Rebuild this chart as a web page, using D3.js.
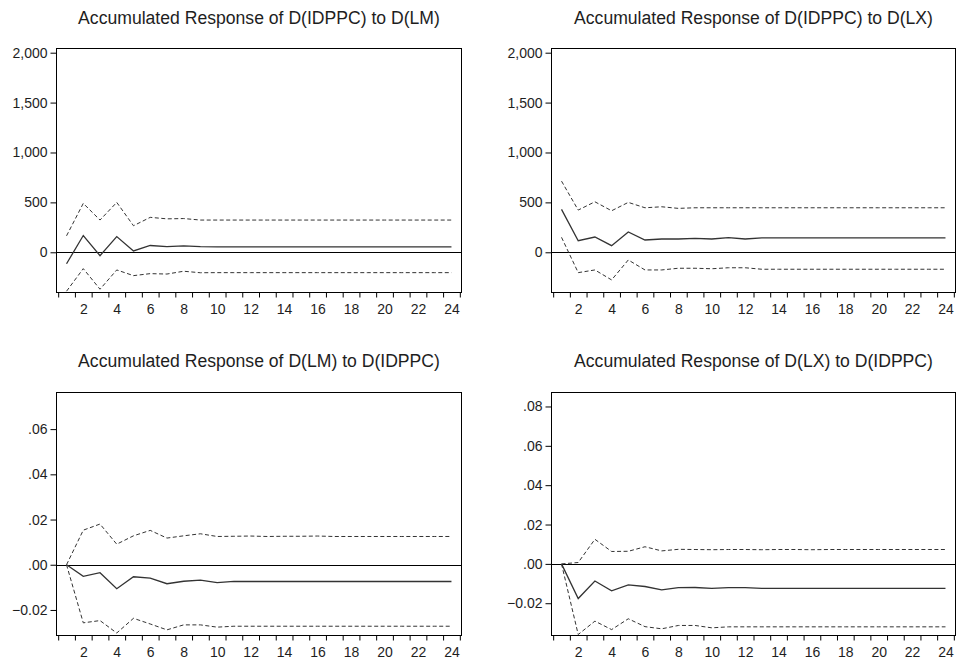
<!DOCTYPE html>
<html>
<head>
<meta charset="utf-8">
<script src="https://cdn.jsdelivr.net/npm/d3@7"></script>
<style>
  html, body { margin: 0; padding: 0; background: #fff; }
  svg { display: block; }
  .title { font-family: "Liberation Sans", Arial, sans-serif; font-size: 17.6px; fill: #1e1e1e; }
  .tick text { font-family: "Liberation Sans", Arial, sans-serif; font-size: 14px; fill: #1e1e1e; }
</style>
</head>
<body>
<script>
// Forecast horizon (periods)
const periods = [1,2,3,4,5,6,7,8,9,10,11,12,13,14,15,16,17,18,19,20,21,22,23,24];
const xTickLabels = [2,4,6,8,10,12,14,16,18,20,22,24];

// Accumulated Response of D(IDPPC) to D(LM)
const idppcLmResp  = [-115,168,-34,157,13,68,56,64,56,55,55,55,55,55,55,55,55,55,55,55,55,55,55,55];
const idppcLmUpper = [165,490,323,500,266,350,335,338,323,323,323,323,323,323,323,323,323,323,323,323,323,323,323,323];
const idppcLmLower = [-390,-164,-370,-177,-234,-214,-218,-190,-205,-204,-204,-204,-204,-204,-204,-204,-204,-204,-204,-204,-204,-204,-204,-204];

// Accumulated Response of D(IDPPC) to D(LX)
const idppcLxResp  = [430,116,153,66,203,123,133,133,140,133,146,133,145,145,145,145,145,145,145,145,145,145,145,145];
const idppcLxUpper = [713,423,506,416,500,446,456,440,446,446,446,446,446,446,446,446,446,446,446,446,446,446,446,446];
const idppcLxLower = [150,-204,-177,-277,-77,-177,-177,-160,-160,-165,-155,-155,-170,-170,-170,-170,-170,-170,-170,-170,-170,-170,-170,-170];

// Accumulated Response of D(LM) to D(IDPPC)
const lmIdppcResp  = [0,-0.0051,-0.0035,-0.0106,-0.0053,-0.0059,-0.0084,-0.0073,-0.0068,-0.0079,-0.0074,-0.0074,-0.0074,-0.0074,-0.0074,-0.0074,-0.0074,-0.0074,-0.0074,-0.0074,-0.0074,-0.0074,-0.0074,-0.0074];
const lmIdppcUpper = [0,0.0153,0.0180,0.0091,0.0128,0.0152,0.0118,0.0128,0.0137,0.0125,0.0126,0.0127,0.0125,0.0126,0.0126,0.0127,0.0125,0.0125,0.0125,0.0125,0.0125,0.0125,0.0125,0.0125];
const lmIdppcLower = [0,-0.0257,-0.0247,-0.0302,-0.0237,-0.0262,-0.0288,-0.0266,-0.0266,-0.0276,-0.0272,-0.0272,-0.0272,-0.0272,-0.0272,-0.0272,-0.0272,-0.0272,-0.0272,-0.0272,-0.0272,-0.0272,-0.0272,-0.0272];

// Accumulated Response of D(LX) to D(IDPPC)
const lxIdppcResp  = [0,-0.0176,-0.0087,-0.0137,-0.0107,-0.0115,-0.0132,-0.0121,-0.0120,-0.0125,-0.0121,-0.0121,-0.0125,-0.0125,-0.0125,-0.0125,-0.0125,-0.0125,-0.0125,-0.0125,-0.0125,-0.0125,-0.0125,-0.0125];
const lxIdppcUpper = [0,0.0007,0.0125,0.0063,0.0064,0.0087,0.0066,0.0074,0.0073,0.0072,0.0073,0.0073,0.0072,0.0073,0.0073,0.0072,0.0073,0.0073,0.0073,0.0073,0.0073,0.0073,0.0073,0.0073];
const lxIdppcLower = [0,-0.0359,-0.0291,-0.0334,-0.0279,-0.0319,-0.0330,-0.0313,-0.0313,-0.0325,-0.0320,-0.0320,-0.0320,-0.0320,-0.0320,-0.0320,-0.0320,-0.0320,-0.0320,-0.0320,-0.0320,-0.0320,-0.0320,-0.0320];

// Y-axis tick values per panel
const levelTicks = [0, 500, 1000, 1500, 2000];
const lmTicks = [-0.02, 0, 0.02, 0.04, 0.06];
const lxTicks = [-0.02, 0, 0.02, 0.04, 0.06, 0.08];

const fmtLevel = d3.format(",");
const fmtRate = d => d3.format(".2f")(d).replace(/^(-?)0\./, "$1.");

const panels = [
  { title: "Accumulated Response of D(IDPPC) to D(LM)", resp: idppcLmResp, upper: idppcLmUpper, lower: idppcLmLower,
    yDomain: [-403, 2042], yTicks: levelTicks, fmt: fmtLevel,
    box: { left: 56.5, right: 461.5, top: 48.5, bottom: 292.5 }, titleY: 24 },
  { title: "Accumulated Response of D(IDPPC) to D(LX)", resp: idppcLxResp, upper: idppcLxUpper, lower: idppcLxLower,
    yDomain: [-403, 2042], yTicks: levelTicks, fmt: fmtLevel,
    box: { left: 551.5, right: 955.5, top: 48.5, bottom: 292.5 }, titleY: 24 },
  { title: "Accumulated Response of D(LM) to D(IDPPC)", resp: lmIdppcResp, upper: lmIdppcUpper, lower: lmIdppcLower,
    yDomain: [-0.0313, 0.0762], yTicks: lmTicks, fmt: fmtRate,
    box: { left: 56.5, right: 461.5, top: 392.5, bottom: 635.5 }, titleY: 367 },
  { title: "Accumulated Response of D(LX) to D(IDPPC)", resp: lxIdppcResp, upper: lxIdppcUpper, lower: lxIdppcLower,
    yDomain: [-0.0364, 0.0871], yTicks: lxTicks, fmt: fmtRate,
    box: { left: 551.5, right: 955.5, top: 392.5, bottom: 635.5 }, titleY: 367 }
];

const svg = d3.select("body").append("svg")
  .attr("width", 958).attr("height", 662);

panels.forEach((p, i) => {
  const b = p.box;
  const x = d3.scaleLinear().domain([0.4, 24.6]).range([b.left, b.right]);
  const y = d3.scaleLinear().domain(p.yDomain).range([b.bottom, b.top]);
  const g = svg.append("g");

  const clipId = "clip" + i;
  g.append("clipPath").attr("id", clipId)
    .append("rect").attr("x", b.left).attr("y", b.top)
    .attr("width", b.right - b.left).attr("height", b.bottom - b.top);

  // title
  g.append("text").attr("class", "title")
    .attr("x", (b.left + b.right) / 2).attr("y", p.titleY)
    .attr("text-anchor", "middle").text(p.title);

  // y axis
  const yAxis = d3.axisLeft(y).tickValues(p.yTicks).tickFormat(p.fmt)
    .tickSize(6).tickPadding(3);
  const ya = g.append("g").attr("transform", `translate(${b.left},0)`).call(yAxis);
  ya.select(".domain").remove();
  ya.selectAll(".tick line").attr("stroke", "#000");

  // x axis: ticks between periods, labels on even periods
  const xTickAxis = d3.axisBottom(x).tickValues(periods.map(d => d - 0.5).concat([24.5]))
    .tickSize(5).tickFormat("");
  const xa = g.append("g").attr("transform", `translate(0,${b.bottom})`).call(xTickAxis);
  xa.select(".domain").remove();
  xa.selectAll(".tick line").attr("stroke", "#000");

  const xLabelAxis = d3.axisBottom(x).tickValues(xTickLabels).tickSize(0).tickPadding(12);
  const xl = g.append("g").attr("transform", `translate(0,${b.bottom})`).call(xLabelAxis);
  xl.select(".domain").remove();

  const plot = g.append("g").attr("clip-path", `url(#${clipId})`);

  // zero line
  plot.append("line")
    .attr("x1", b.left).attr("x2", b.right)
    .attr("y1", Math.round(y(0)) + 0.5).attr("y2", Math.round(y(0)) + 0.5)
    .attr("stroke", "#000").attr("stroke-width", 1);

  const line = d3.line().x((d, k) => x(periods[k])).y(d => y(d));

  [p.upper, p.lower].forEach(s => {
    plot.append("path").datum(s).attr("d", line)
      .attr("fill", "none").attr("stroke", "#333").attr("stroke-width", 1)
      .attr("stroke-dasharray", "4,2.5");
  });
  plot.append("path").datum(p.resp).attr("d", line)
    .attr("fill", "none").attr("stroke", "#333").attr("stroke-width", 1.3);

  // frame
  g.append("rect").attr("x", b.left).attr("y", b.top)
    .attr("width", b.right - b.left).attr("height", b.bottom - b.top)
    .attr("fill", "none").attr("stroke", "#000").attr("stroke-width", 1);
});
</script>
</body>
</html>
